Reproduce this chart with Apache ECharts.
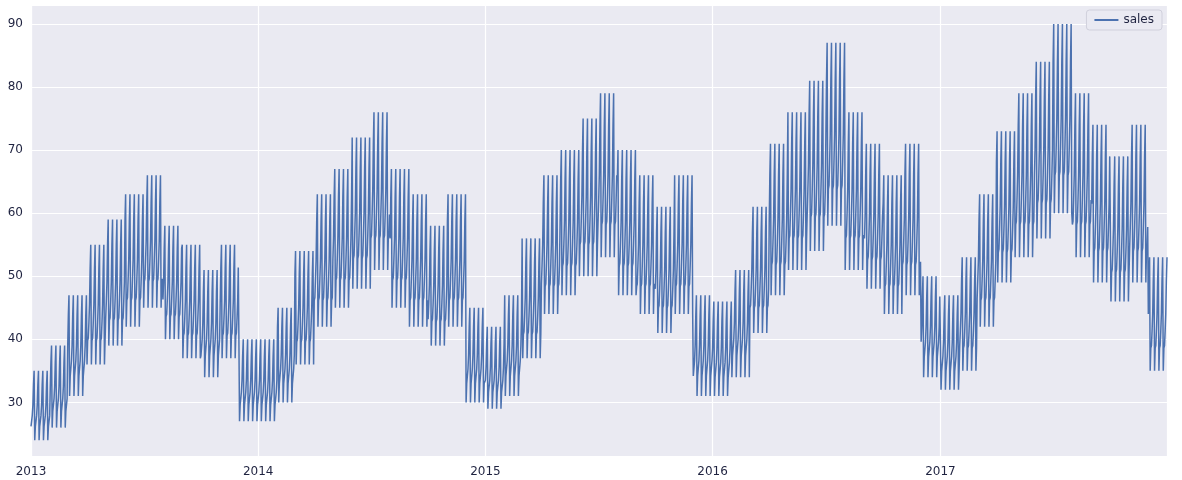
<!DOCTYPE html>
<html><head><meta charset="utf-8">
<script src="https://cdn.jsdelivr.net/npm/echarts@6/dist/echarts.min.js"></script>
<style>body{margin:0}#main{width:1182px;height:480px}</style>
</head><body><div id="main"></div>
<script>
// monthly weekly-low / weekly-high levels, Jan 2013 .. Dec 2017
var monthLow = [
  24, 26, 31, 36, 39, 42, 45, 40, 37, 34, 37, 27,
  27, 30, 36, 42, 45, 48, 51, 45, 42, 39, 42, 30,
  29, 31, 37, 44, 47, 50, 53, 47, 44, 41, 44, 31,
  31, 34, 41, 47, 51, 54, 58, 51, 48, 44, 47, 34,
  32, 35, 42, 49, 53, 56, 60, 53, 49, 46, 49, 35
];
var monthHigh = [
  35, 39, 47, 55, 59, 63, 66, 58, 55, 51, 55, 40,
  40, 45, 54, 63, 67, 72, 76, 67, 63, 58, 63, 45,
  42, 47, 56, 66, 70, 75, 79, 70, 66, 61, 66, 47,
  46, 51, 61, 71, 76, 81, 87, 76, 71, 66, 71, 50,
  47, 53, 63, 73, 79, 84, 90, 79, 74, 69, 74, 53
];
// weekday position between low and high (Sun..Sat)
var weekdayShare = [1.0, 0.0, 0.2, 0.22, 0.35, 0.5, 0.8];
var yTicks = [30, 40, 50, 60, 70, 80, 90];

var sales = [];
for (var t = Date.UTC(2013, 0, 1); t <= Date.UTC(2017, 11, 31); t += 86400000) {
  var d = new Date(t);
  var m = (d.getUTCFullYear() - 2013) * 12 + d.getUTCMonth();
  var lo = monthLow[m], hi = monthHigh[m];
  sales.push([t, +(lo + (hi - lo) * weekdayShare[d.getUTCDay()]).toFixed(1)]);
}

var myChart = echarts.init(document.getElementById('main'));
var option = {
  backgroundColor: '#ffffff',
  animation: false,
  useUTC: true,
  grid: { left: 31, right: 15, top: 5, bottom: 24, backgroundColor: '#eaeaf2', show: true, borderWidth: 0 },
  legend: {
    right: 20, top: 10, data: [{ name: 'sales', icon: 'rect' }],
    backgroundColor: '#eaeaf2', borderColor: '#d0d0dc', borderWidth: 1, borderRadius: 3,
    padding: [4, 8], itemWidth: 24, itemHeight: 2,
    textStyle: { color: '#1f2340', fontSize: 12, fontFamily: 'DejaVu Sans' }
  },
  xAxis: {
    type: 'time',
    min: Date.UTC(2013, 0, 1), max: Date.UTC(2017, 11, 31),
    splitNumber: 5,
    axisLine: { show: false }, axisTick: { show: false },
    axisLabel: {
      formatter: { year: '{yyyy}', month: '', day: '', hour: '', minute: '', second: '', millisecond: '' },
      color: '#1f2340', fontSize: 12, fontFamily: 'DejaVu Sans', margin: 10, fontWeight: 'normal'
    },
    splitLine: { show: true, lineStyle: { color: '#ffffff', width: 1.2 } }
  },
  yAxis: {
    type: 'value', min: 21.5, max: 93,
    axisLine: { show: false }, axisTick: { show: false },
    axisLabel: { customValues: yTicks, color: '#1f2340', fontSize: 12, fontFamily: 'DejaVu Sans', margin: 8 },
    splitLine: { show: true, lineStyle: { color: '#ffffff', width: 1.2 } }
  },
  series: [{
    name: 'sales', type: 'line', data: sales, showSymbol: false,
    lineStyle: { color: '#4c72b0', width: 1.5 }, itemStyle: { color: '#4c72b0' }
  }]
};
myChart.setOption(option);
</script></body></html>
